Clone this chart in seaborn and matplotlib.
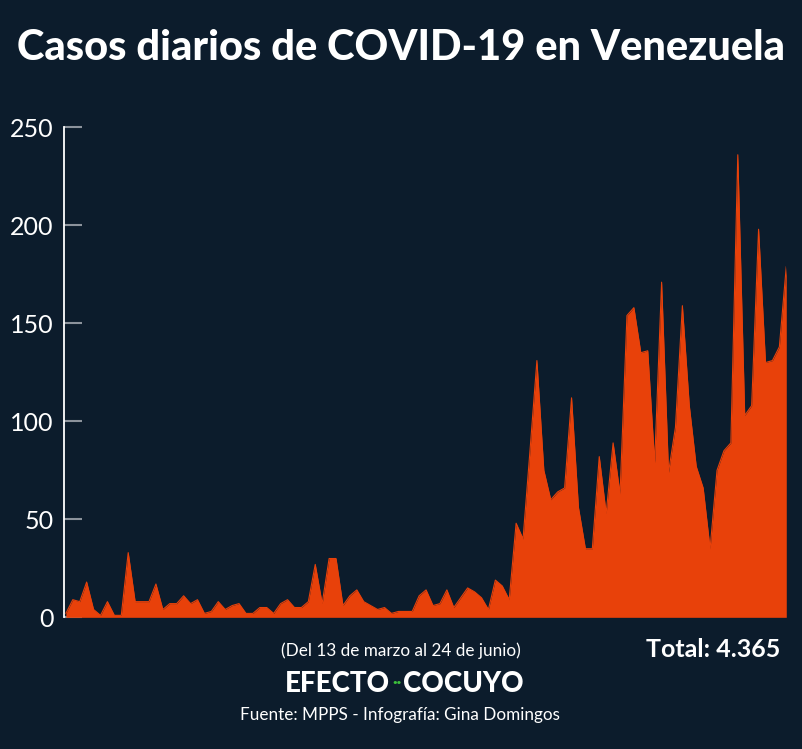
import numpy as np
import pandas as pd
import matplotlib
matplotlib.use("Agg")
import matplotlib.pyplot as plt
import seaborn as sns

# daily cases (13 march - 24 june)
casos_marzo_abril = [2, 9, 8, 18, 4, 1, 8, 1, 1, 33, 8, 8, 8, 17, 4, 7, 7, 11, 7,
                     9, 2, 3, 8, 4, 6, 7, 2, 2, 5, 5, 2, 7, 9, 5, 5, 8, 27]
casos_abril_mayo = [7, 30, 30, 6, 11, 14, 8, 6, 4, 5, 2, 3, 3, 3, 11, 14, 6, 7,
                    14, 5, 10, 15, 13, 10, 4, 19, 16, 9, 48, 40]
casos_mayo_junio = [85, 131, 75, 60, 64, 66, 112, 56, 35, 35, 82, 53, 89, 63, 154,
                    158, 135, 136, 79, 171, 74, 97, 159, 108, 77, 66, 35, 75, 85,
                    89, 236, 103, 108, 198, 130, 131, 138, 179]
yticks = [0, 50, 100, 150, 200, 250]

casos = casos_marzo_abril + casos_abril_mayo + casos_mayo_junio
df = pd.DataFrame({'dia': np.arange(len(casos)), 'casos': casos})

bg = '#0c1c2c'
naranja = '#e8410a'

sns.set_theme(style='white')
plt.rcParams['font.family'] = ['Lato', 'DejaVu Sans']

fig = plt.figure(figsize=(8.02, 7.49), dpi=100, facecolor=bg)
ax = fig.add_axes([0.0804, 0.1758, 0.9000, 0.6542])
ax.set_facecolor(bg)

sns.lineplot(data=df, x='dia', y='casos', color=naranja, linewidth=0.8, ax=ax)
ax.fill_between(df['dia'], 0, df['casos'], color=naranja, linewidth=0)

ax.set_xlim(-0.2, len(casos) - 1)
ax.set_ylim(0, 250)
ax.set_yticks(yticks)
ax.set_xticks([])
ax.set_xlabel('')
ax.set_ylabel('')
ax.tick_params(axis='y', direction='in', length=13, width=1.5, color='#8c939c',
               labelcolor='white', labelsize=18, pad=8, left=True)
for s in ['top', 'right', 'bottom']:
    ax.spines[s].set_visible(False)
ax.spines['left'].set_color('white')
ax.spines['left'].set_linewidth(1.3)

fig.text(0.5, 0.936, 'Casos diarios de COVID-19 en Venezuela', color='white',
         fontsize=30, fontweight='black', ha='center', va='center')
fig.text(0.4995, 0.131, '(Del 13 de marzo al 24 de junio)', color='white',
         fontsize=12.3, ha='center', va='center')
fig.text(0.973, 0.133, 'Total: 4.365', color='white', fontsize=18,
         fontweight='bold', ha='right', va='center')
# logo: EFECTO ·· COCUYO
fig.text(0.4860, 0.087, 'EFECTO', color='white', fontsize=20, fontweight='black',
         ha='right', va='center')
fig.text(0.4945, 0.089, '··', color='#3cc13b', fontsize=12, fontweight='black',
         ha='center', va='center')
fig.text(0.5030, 0.087, 'COCUYO', color='white', fontsize=20, fontweight='black',
         ha='left', va='center')
fig.text(0.4985, 0.046, 'Fuente: MPPS - Infografía: Gina Domingos', color='white',
         fontsize=12.3, ha='center', va='center')

fig.savefig('out.png', dpi=100, facecolor=bg)
